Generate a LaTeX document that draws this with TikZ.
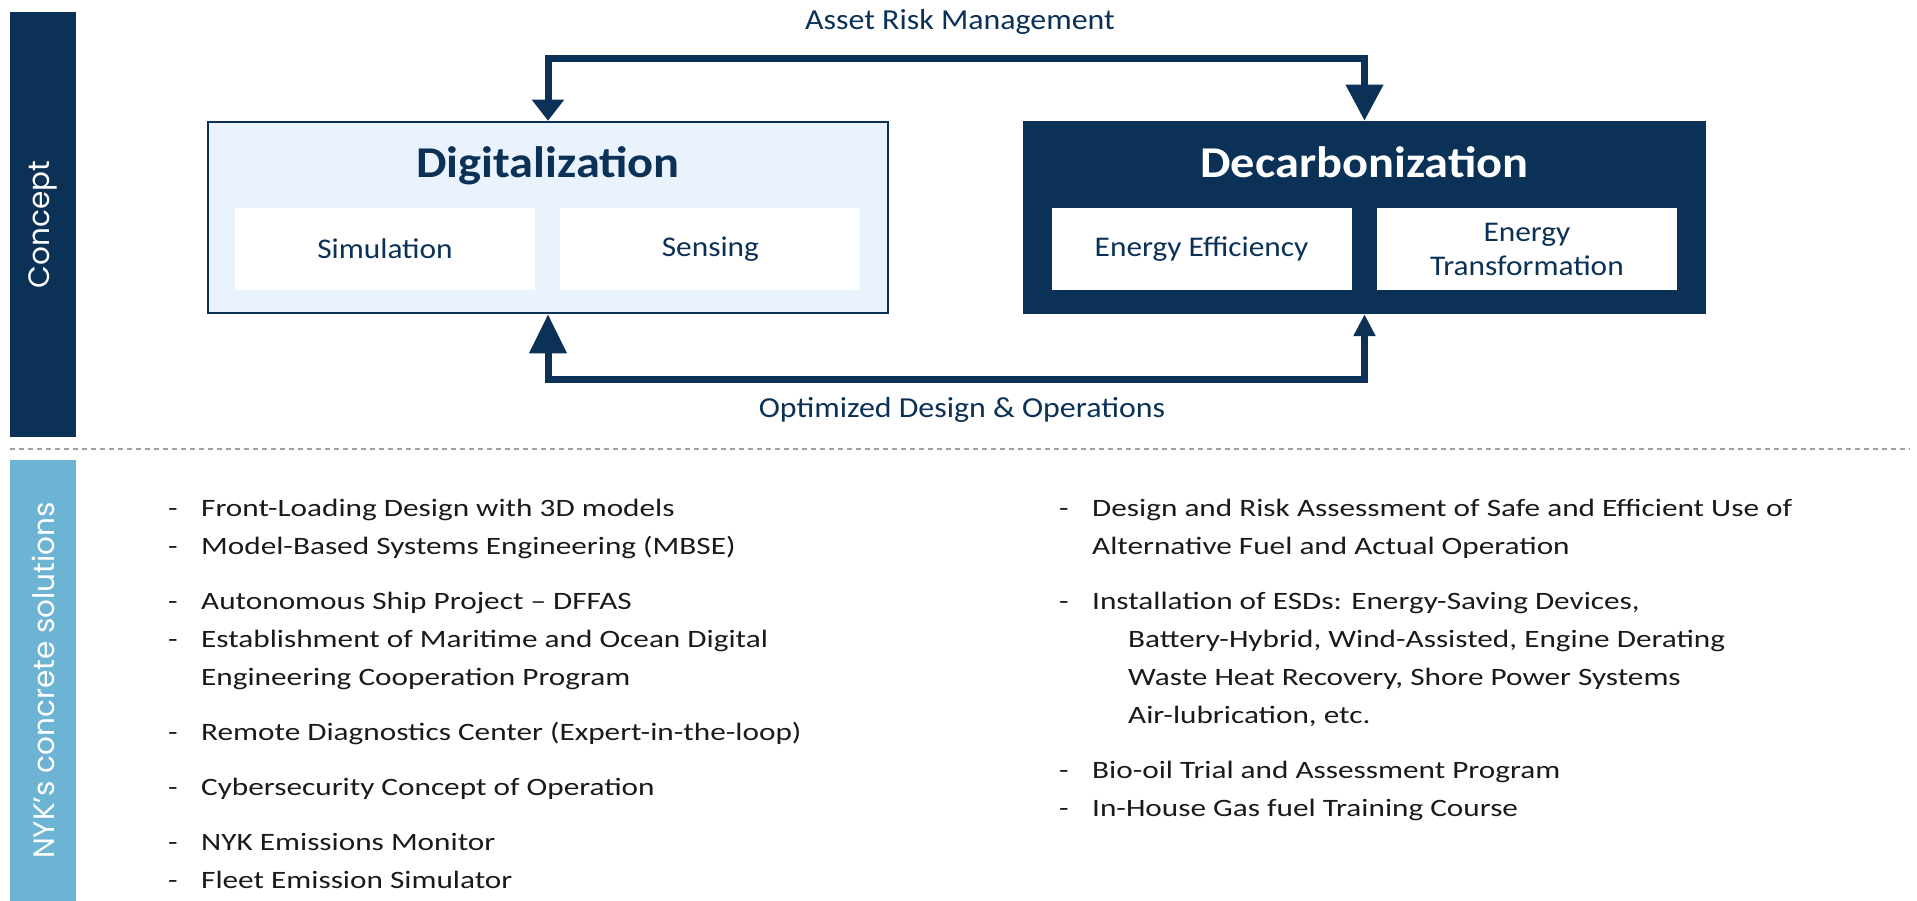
\documentclass[tikz,border=0pt]{standalone}
\usepackage{fontspec}
\setmainfont{Carlito}[FakeStretch=1.1]
\newfontfamily\listfont{Carlito}[FakeStretch=1.25]
\newfontfamily\sidefont{Poppins}
\usepackage{xcolor}
\usetikzlibrary{arrows.meta, positioning}
\definecolor{navy}{HTML}{0B3157}
\definecolor{skybar}{HTML}{6DB3D4}
\definecolor{digifill}{HTML}{EAF3FD}
\definecolor{listtext}{HTML}{1A1A1A}
\definecolor{sepgray}{HTML}{A0A0A0}
\newcommand\dashitem[1]{\makebox[33pt][l]{-}#1}
\newcommand\dashcont[1]{\hspace*{33pt}#1}
\tikzset{
  sidebar/.style={rectangle, rotate=90, inner sep=0pt, text=white, font=\sidefont\fontsize{29.5}{32}\selectfont},
  mainbox/.style={rectangle, inner sep=0pt, minimum width=680pt, minimum height=191pt},
  digibox/.style={mainbox, draw=navy, fill=digifill, line width=2.5pt},
  decbox/.style={mainbox, draw=navy, fill=navy, line width=2.5pt},
  subbox/.style={rectangle, fill=white, inner sep=0pt, minimum width=300pt, minimum height=82pt, align=center, text=navy, font=\fontsize{28.5}{34}\selectfont},
  boxtitle/.style={font=\bfseries\fontsize{44}{48}\selectfont, inner sep=0pt},
  flowlab/.style={font=\fontsize{29}{32}\selectfont, text=navy, inner sep=0pt},
  flow/.style={draw=navy, line width=7pt},
  sollist/.style={align=left, inner sep=0pt, text=listtext, font=\listfont\fontsize{25}{38}\selectfont},
}
\begin{document}
\begin{tikzpicture}[x=1pt, y=1pt]
  \useasboundingbox (0,0) rectangle (1917,-901);
  % side bars
  \node[sidebar, fill=navy, minimum width=425pt, minimum height=66pt] (concept) at (43,-224.5) {Concept};
  \node[sidebar, fill=skybar, minimum width=441pt, minimum height=66pt] (solutions) at (43,-680.5) {NYK’s concrete solutions};
  \draw[sepgray, line width=1.5pt, dash pattern=on 5pt off 4pt] (10,-449) -- (1910,-449);
  % concept boxes
  \node[digibox] (digi) at (548,-217.5) {};
  \node[decbox] (decarb) at (1364.5,-217.5) {};
  \node[boxtitle, text=navy, anchor=base] (digititle) at (digi.center |- 0,-178) {Digitalization};
  \node[boxtitle, text=white, anchor=base] (dectitle) at (decarb.center |- 0,-178) {Decarbonization};
  \node[subbox] (sim) at (385,-249) {Simulation};
  \node[subbox, right=25pt of sim] (sens) {Sensing};
  \node[subbox] (eff) at (1201.5,-249) {Energy Efficiency};
  \node[subbox, right=25pt of eff] (trans) {Energy\\Transformation};
  % loops
  \draw[flow, {Triangle[length=21pt,width=31pt]}-{Triangle[length=36pt,width=36pt]}]
    (digi.north) -- ++(0,62.5) -| (decarb.north);
  \draw[flow, {Triangle[length=39pt,width=36pt]}-{Triangle[length=22pt,width=21pt]}]
    (digi.south) -- ++(0,-65.5) -| (decarb.south);
  \node[flowlab, anchor=base] (arm) at (960,-30) {Asset Risk Management};
  \node[flowlab, anchor=base] (odo) at (962,-417) {Optimized Design \& Operations};
  % solutions (base = last line)
  \node[sollist, anchor=base west] (digilist) at (168,-888.5) {%
    \dashitem{Front-Loading Design with 3D models}\\
    \dashitem{Model-Based Systems Engineering (MBSE)}\\[17pt]
    \dashitem{Autonomous Ship Project – DFFAS}\\
    \dashitem{Establishment of Maritime and Ocean Digital}\\
    \dashcont{Engineering Cooperation Program}\\[17pt]
    \dashitem{Remote Diagnostics Center (Expert-in-the-loop)}\\[17pt]
    \dashitem{Cybersecurity Concept of Operation}\\[17pt]
    \dashitem{NYK Emissions Monitor}\\
    \dashitem{Fleet Emission Simulator}};
  \node[sollist, anchor=base west] (declist) at (1059,-816.5) {%
    \dashitem{Design and Risk Assessment of Safe and Efficient Use of}\\
    \dashcont{Alternative Fuel and Actual Operation}\\[17pt]
    \dashitem{Installation of ESDs: Energy-Saving Devices,}\\
    \dashcont{\hspace*{36pt}Battery-Hybrid, Wind-Assisted, Engine Derating}\\
    \dashcont{\hspace*{36pt}Waste Heat Recovery, Shore Power Systems}\\
    \dashcont{\hspace*{36pt}Air-lubrication, etc.}\\[17pt]
    \dashitem{Bio-oil Trial and Assessment Program}\\
    \dashitem{In-House Gas fuel Training Course}};
\end{tikzpicture}
\end{document}
